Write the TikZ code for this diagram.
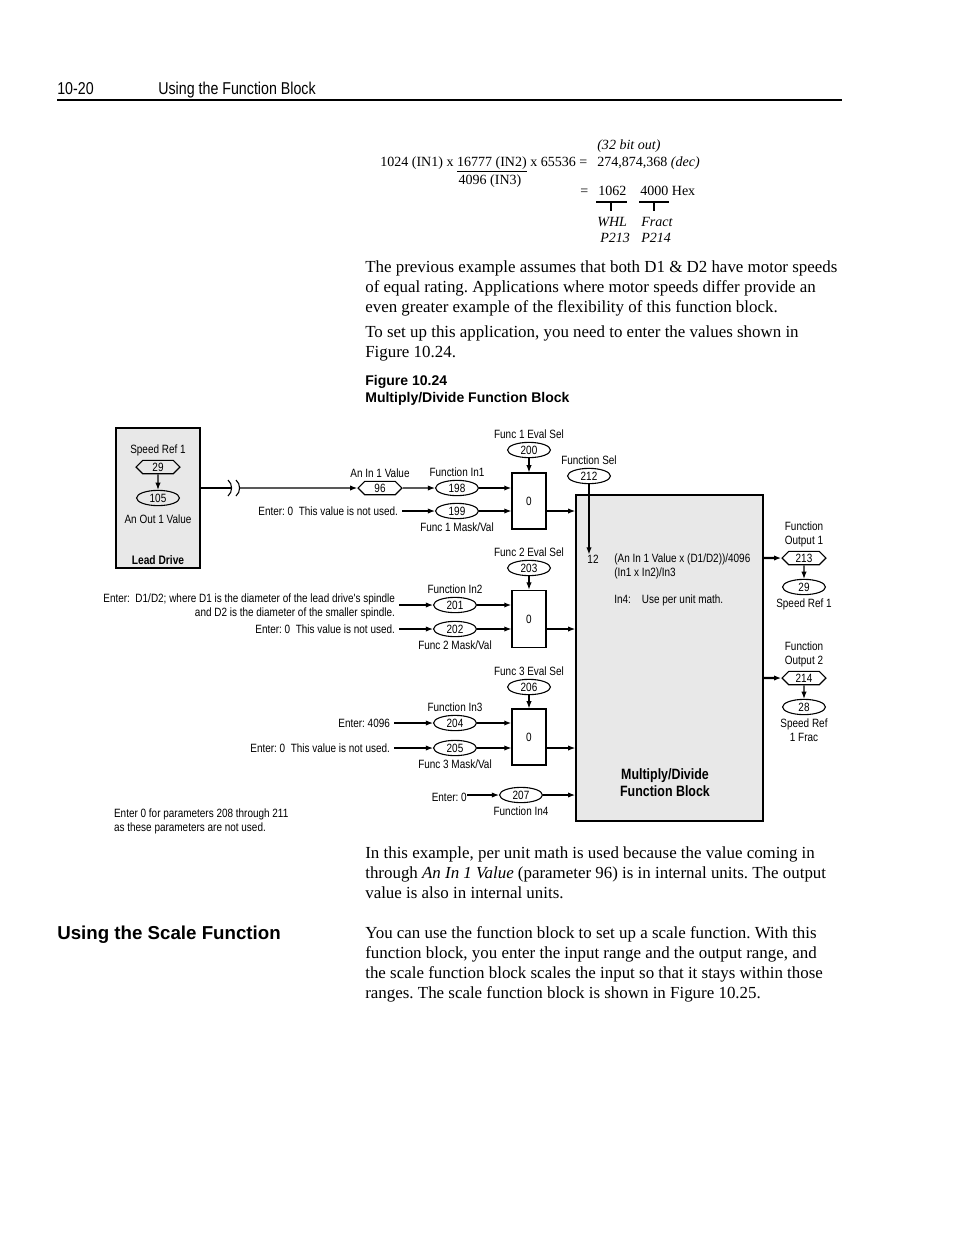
\documentclass[tikz,border=0pt]{standalone}
\usepackage{fontspec}
\setmainfont{Liberation Serif}
\newfontfamily\narrowsf[FakeStretch=0.83]{Liberation Sans}
\newfontfamily\headsf{Liberation Sans}
\usetikzlibrary{arrows.meta}
\usetikzlibrary{shapes.symbols}
\usetikzlibrary{shapes.geometric}
\usetikzlibrary{positioning}
\tikzset{>={Latex[length=4.6pt,width=3.4pt]}}
\definecolor{panelgray}{RGB}{232,232,232}
\tikzset{
  body/.style={font=\fontsize{10.85}{12.8}\selectfont, anchor=base west, inner sep=0pt},
  eqtxt/.style={font=\fontsize{9}{10.8}\selectfont, anchor=base west, inner sep=0pt},
  hdr/.style={font=\narrowsf\fontsize{11}{12}\selectfont, anchor=base west, inner sep=0pt},
  capt/.style={font=\headsf\bfseries\fontsize{9}{11}\selectfont, anchor=base west, inner sep=0pt},
  lbl/.style={font=\narrowsf\fontsize{7.7}{9}\selectfont, inner sep=0.5pt, align=center},
  boldlbl/.style={font=\narrowsf\bfseries\fontsize{7.9}{9}\selectfont, inner sep=0pt, align=center},
  hexpar/.style={signal, signal to=east and west, draw, line width=0.7pt, minimum width=28.2pt,
    minimum height=8.6pt, inner sep=0pt, font=\narrowsf\fontsize{7.7}{8}\selectfont},
  ovalpar/.style={ellipse, draw, line width=0.7pt, minimum width=27.5pt, minimum height=9.8pt,
    inner sep=0pt, font=\narrowsf\fontsize{7.7}{8}\selectfont},
  selblock/.style={rectangle, draw, line width=0.75pt, fill=white, minimum width=21.8pt,
    minimum height=36pt, inner sep=0pt, font=\narrowsf\fontsize{7.7}{8}\selectfont},
  graybox/.style={rectangle, draw, line width=0.9pt, fill=panelgray, inner sep=0pt},
  wire/.style={line width=0.7pt},
  fatwire/.style={line width=1.3pt},
}

\begin{document}
\frenchspacing
\begin{tikzpicture}[x=0.6415pt, y=-0.6415pt]
    \useasboundingbox (0,0) rectangle (954,1235);
    \fill[white] (0,0) rectangle (954,1235);

    % Page header.
    \node[hdr] (pgnum) at (57,94) {10-20};
    \node[hdr] (pgtitle) at (158,94) {Using the Function Block};
    \draw[line width=1.3pt] (57,100) -- (842,100);

    % Worked example of the math.
    \node[eqtxt] (eqlhs) at (380,166) {1024 (IN1) x \underline{16777 (IN2)} x 65536 =};
    \node[eqtxt, anchor=base] (eqden) at (490,184) {4096 (IN3)};
    \node[eqtxt] (eqbits) at (597,149) {\textit{(32 bit out)}};
    \node[eqtxt] (eqdec) at (597,166) {274,874,368 \textit{(dec)}};
    \node[eqtxt] (eqeq) at (580,195) {=};
    \node[eqtxt] (eqwhl) at (598,195) {1062};
    \node[eqtxt] (eqfr) at (640,195) {4000 Hex};
    \draw[wire] (596,202) -- (627,202) (611,202) -- (611,211);
    \draw[wire] (639,202) -- (669,202) (654,202) -- (654,211);
    \node[eqtxt] (eqwhllbl) at (597,226) {\textit{WHL}};
    \node[eqtxt] (eqfrlbl) at (641,226) {\textit{Fract}};
    \node[eqtxt] (eqp213) at (600,242) {\textit{P213}};
    \node[eqtxt] (eqp214) at (641,242) {\textit{P214}};

    % Text above the figure.
    \foreach \ln [count=\i from 0] in {{The previous example assumes that both D1 \& D2 have motor speeds},
        {of equal rating. Applications where motor speeds differ provide an},
        {even greater example of the flexibility of this function block.}}
      \node[body] (prev\i) at (365,272+20*\i) {\ln};
    \foreach \ln [count=\i from 0] in {{To set up this application, you need to enter the values shown in},
        {Figure 10.24.}}
      \node[body] (setup\i) at (365,337+20*\i) {\ln};
    \node[capt] (fignum) at (365,385) {Figure 10.24};
    \node[capt] (figname) at (365,402) {Multiply/Divide Function Block};

    % Lead drive.
    \node[graybox, minimum width=53.9pt, minimum height=89.8pt] (ldrive) at (158,498) {};
    \node[hexpar] (ldref) at (158,467) {29};
    \node[lbl, above=1.5pt of ldref] (ldreflbl) {Speed Ref 1};
    \node[ovalpar] (ldout) at (158,498) {105};
    \node[lbl, below=5pt of ldout] (ldoutlbl) {An Out 1 Value};
    \node[boldlbl] (ldname) at (158,560) {Lead Drive};
    \draw[wire,->] (ldref) -- (ldout);

    % Main function block.
    \node[graybox, minimum width=120pt, minimum height=209.1pt] (mfb) at (669.5,658) {};
    \node[lbl, inner sep=0pt] (fcode) at (593,559) {12};
    \node[lbl, anchor=west, align=left, inner sep=0pt] (fdesc) at (614,566)
      {(An In 1 Value x (D1/D2))/4096\\(In1 x In2)/In3};
    \node[lbl, anchor=west, inner sep=0pt] (fnote) at (614,600) {In4:\hspace{7pt}Use per unit math.};
    \node[boldlbl, font=\narrowsf\bfseries\fontsize{9.6}{11}\selectfont] (mfbname) at (665,783)
      {Multiply/Divide\\Function Block};
    \node[ovalpar] (fsel) at (589,476) {212};
    \node[lbl, above=1.5pt of fsel] (fsellbl) {Function Sel};
    \draw[wire,->] (fsel) -- (fsel |- fcode.north);

    % Analog link from the lead drive.
    \coordinate (brkL) at (232,488);
    \coordinate (brkR) at (240,488);
    \node[hexpar] (ain) at (380,488) {96};
    \node[lbl, above=1.5pt of ain] (ainlbl) {An In 1 Value};
    \draw[wire] (ldrive.east |- brkL) -- (brkL);
    \draw[wire] (228,480) to[bend left=50] (228,496);
    \draw[wire] (236,480) to[bend left=50] (236,496);
    \draw[wire,->] (brkR) -- (ain);

    % Function 1.
    \node[selblock] (blk1) at (529,501) {0};
    \node[ovalpar] (fsel1) at (529,450) {200};
    \node[lbl, above=1.5pt of fsel1] (fsel1lbl) {Func 1 Eval Sel};
    \node[ovalpar] (fin1) at (457,488) {198};
    \node[lbl, above=1.5pt of fin1] (fin1lbl) {Function In1};
    \node[ovalpar] (fmask1) at (457,511) {199};
    \node[lbl, below=1.5pt of fmask1] (fmask1lbl) {Func 1 Mask/Val};
    \node[lbl, anchor=east] (ent199) at (399,511) {Enter: 0\ \ This value is not used.};
    \draw[wire,->] (ain) -- (fin1);
    \draw[fatwire,->] (fin1) -- (fin1 -| blk1.west);
    \draw[wire,->,shorten <=2pt] (ent199) -- (fmask1);
    \draw[wire,->] (fmask1) -- (fmask1 -| blk1.west);
    \draw[wire,->] (fsel1) -- (blk1);
    \draw[wire,->] (fmask1 -| blk1.east) -- (fmask1 -| mfb.west);

    % Function 2.
    \node[selblock, minimum height=37pt] (blk2) at (529,619) {0};
    \node[ovalpar] (fsel2) at (529,568) {203};
    \node[lbl, above=1.5pt of fsel2] (fsel2lbl) {Func 2 Eval Sel};
    \node[ovalpar] (fin2) at (455,605) {201};
    \node[lbl, above=1.5pt of fin2] (fin2lbl) {Function In2};
    \node[ovalpar] (fmask2) at (455,629) {202};
    \node[lbl, below=1.5pt of fmask2] (fmask2lbl) {Func 2 Mask/Val};
    \node[lbl, anchor=east, align=right] (ent201) at (396,606)
      {Enter:\ \ D1/D2; where D1 is the diameter of the lead drive's spindle\\and D2 is the diameter of the smaller spindle.};
    \node[lbl, anchor=east] (ent202) at (396,629) {Enter: 0\ \ This value is not used.};
    \draw[wire,->,shorten <=2pt] (ent201.east |- fin2) -- (fin2);
    \draw[fatwire,->] (fin2) -- (fin2 -| blk2.west);
    \draw[wire,->,shorten <=2pt] (ent202) -- (fmask2);
    \draw[wire,->] (fmask2) -- (fmask2 -| blk2.west);
    \draw[wire,->] (fsel2) -- (blk2);
    \draw[wire,->] (fmask2 -| blk2.east) -- (fmask2 -| mfb.west);

    % Function 3.
    \node[selblock] (blk3) at (529,737) {0};
    \node[ovalpar] (fsel3) at (529,687) {206};
    \node[lbl, above=1.5pt of fsel3] (fsel3lbl) {Func 3 Eval Sel};
    \node[ovalpar] (fin3) at (455,723) {204};
    \node[lbl, above=1.5pt of fin3] (fin3lbl) {Function In3};
    \node[ovalpar] (fmask3) at (455,748) {205};
    \node[lbl, below=1.5pt of fmask3] (fmask3lbl) {Func 3 Mask/Val};
    \node[lbl, anchor=east] (ent204) at (391,723) {Enter: 4096};
    \node[lbl, anchor=east] (ent205) at (391,748) {Enter: 0\ \ This value is not used.};
    \draw[wire,->,shorten <=2pt] (ent204) -- (fin3);
    \draw[fatwire,->] (fin3) -- (fin3 -| blk3.west);
    \draw[wire,->,shorten <=2pt] (ent205) -- (fmask3);
    \draw[wire,->] (fmask3) -- (fmask3 -| blk3.west);
    \draw[wire,->] (fsel3) -- (blk3);
    \draw[wire,->] (fmask3 -| blk3.east) -- (fmask3 -| mfb.west);

    % Function input 4.
    \node[ovalpar] (fin4) at (521,795) {207};
    \node[lbl, below=1.5pt of fin4] (fin4lbl) {Function In4};
    \node[lbl, anchor=east, inner sep=0pt] (ent207) at (467,797) {Enter: 0};
    \draw[wire,->] (ent207.east |- fin4) -- (fin4);
    \draw[fatwire,->] (fin4) -- (fin4 -| mfb.west);
    \node[lbl, anchor=west, align=left] (unused) at (113,821)
      {Enter 0 for parameters 208 through 211\\as these parameters are not used.};

    % Outputs.
    \node[hexpar] (fout1) at (804,558) {213};
    \node[lbl, above=1.5pt of fout1] (fout1lbl) {Function\\Output 1};
    \node[ovalpar] (sref) at (804,587) {29};
    \node[lbl, below=1.5pt of sref] (sreflbl) {Speed Ref 1};
    \draw[fatwire,->] (fout1 -| mfb.east) -- (fout1);
    \draw[wire,->] (fout1) -- (sref);
    \node[hexpar] (fout2) at (804,678) {214};
    \node[lbl, above=1.5pt of fout2] (fout2lbl) {Function\\Output 2};
    \node[ovalpar] (sfrac) at (804,707) {28};
    \node[lbl, below=1.5pt of sfrac] (sfraclbl) {Speed Ref\\1 Frac};
    \draw[fatwire,->] (fout2 -| mfb.east) -- (fout2);
    \draw[wire,->] (fout2) -- (sfrac);

    % Text below the figure.
    \foreach \ln [count=\i from 0] in {{In this example, per unit math is used because the value coming in},
        {through \textit{An In 1 Value} (parameter 96) is in internal units. The output},
        {value is also in internal units.}}
      \node[body] (perunit\i) at (365,858+20*\i) {\ln};
    \node[anchor=base west, inner sep=0pt, font=\headsf\bfseries\fontsize{12}{14}\selectfont] (scalehd) at (57,939)
      {Using the Scale Function};
    \foreach \ln [count=\i from 0] in {{You can use the function block to set up a scale function. With this},
        {function block, you enter the input range and the output range, and},
        {the scale function block scales the input so that it stays within those},
        {ranges. The scale function block is shown in Figure 10.25.}}
      \node[body] (scale\i) at (365,938+20*\i) {\ln};
  \end{tikzpicture}
\end{document}
